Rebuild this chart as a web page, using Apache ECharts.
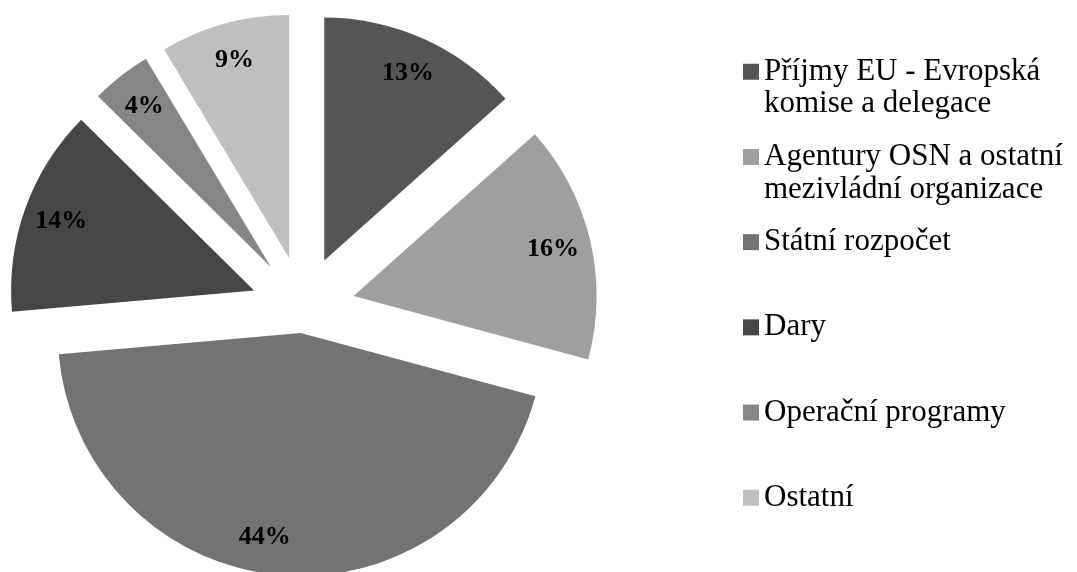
<!DOCTYPE html>
<html>
<head>
<meta charset="utf-8">
<script src="https://cdn.jsdelivr.net/npm/echarts@6/dist/echarts.min.js"></script>
<style>
  html, body {margin: 0; padding: 0; background: #fff;}
  #chart {width: 1077px; height: 572px;}
</style>
</head>
<body>
<div id="chart"></div>
<script>
const categories = [
  'Příjmy EU - Evropská komise a delegace',
  'Agentury OSN a ostatní mezivládní organizace',
  'Státní rozpočet',
  'Dary',
  'Operační programy',
  'Ostatní'
];
const legendLabels = [
  'Příjmy EU - Evropská\nkomise a delegace',
  'Agentury OSN a ostatní\nmezivládní organizace',
  'Státní rozpočet',
  'Dary',
  'Operační programy',
  'Ostatní'
];
const shares = [13.4, 15.8, 44.4, 13.8, 4.0, 8.6];
const colors = ['#555555', '#9f9f9f', '#737373', '#464646', '#868686', '#bfbfbf'];

const centre = [303, 308];
const transparent = 'rgba(0,0,0,0)';
const serif = '"Liberation Serif", "Times New Roman", serif';

// the big slice is pulled out less than the rest; selectedOffset is per series,
// so the pie is split in two series that each paint only their own slices.
// label.offset is ignored by the pie layout, uneven padding nudges the text instead
const groups = [
  {offset: 52, items: [0, 1, 3, 4, 5], labelPad: [10, 0, 0, 0]},
  {offset: 25, items: [2], labelPad: [0, 36, 8, 0]}
];

// labels sit further out than 'inside' would put them, so they live in a
// bigger transparent pie on top
const pieSeries = (group, radius, withLabels) => ({
  type: 'pie',
  center: centre,
  radius: radius,
  silent: true,
  selectedMode: 'multiple',
  selectedOffset: group.offset,
  animation: false,
  labelLine: {show: false},
  data: categories.map((name, i) => {
    const own = group.items.includes(i);
    return {
      name: name,
      value: shares[i],
      selected: own,
      itemStyle: {color: own && !withLabels ? colors[i] : transparent, borderWidth: 0},
      label: {
        show: own && withLabels,
        position: 'inside',
        padding: group.labelPad,
        formatter: p => Math.round(p.percent) + '%',
        fontFamily: serif,
        fontWeight: 'bold',
        fontSize: 26,
        color: '#000'
      }
    };
  })
});

const chart = echarts.init(document.getElementById('chart'));
chart.setOption({
  backgroundColor: '#fff',
  animation: false,
  legend: {
    orient: 'vertical',
    left: 743,
    top: 23,
    padding: 0,
    itemWidth: 16,
    itemHeight: 16,
    itemGap: -12.3,
    icon: 'rect',
    selectedMode: false,
    data: categories.map((name, i) => ({name: name, itemStyle: {color: colors[i]}})),
    formatter: name => {
      const t = legendLabels[categories.indexOf(name)];
      // three lines per entry so the square lines up with the first text line
      return '\n' + t + (t.includes('\n') ? '' : '\n');
    },
    textStyle: {fontFamily: serif, fontSize: 31, lineHeight: 32.5, color: '#000'}
  },
  series: [
    ...groups.map(g => pieSeries(g, 243, false)),
    ...groups.map(g => pieSeries(g, 404, true))
  ]
});
</script>
</body>
</html>
